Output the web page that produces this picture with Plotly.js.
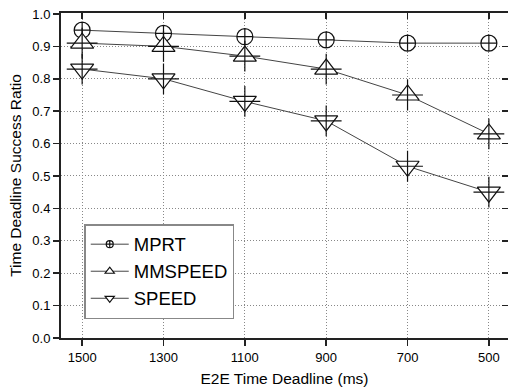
<!DOCTYPE html>
<html>
<head>
<meta charset="utf-8">
<script src="https://cdn.plot.ly/plotly-3.0.1.min.js"></script>
<style>html,body{margin:0;padding:0;background:#fff;}#chart{width:508px;height:389px;}</style>
</head>
<body>
<div id="chart"></div>
<script>
const deadlines = [1500, 1300, 1100, 900, 700, 500];
const tickLabels = ['1500', '1300', '1100', '900', '700', '500'];
const mprt = [0.95, 0.94, 0.93, 0.92, 0.91, 0.91];
const mmspeed = [0.91, 0.90, 0.87, 0.83, 0.75, 0.63];
const speed = [0.83, 0.80, 0.73, 0.67, 0.53, 0.45];
const seriesNames = ['MPRT', 'MMSPEED', 'SPEED'];

const lineStyle = {color: '#444', width: 1};
const mkFill = (symbol, size) => ({symbol: symbol, size: size, color: '#fff', line: {color: '#111', width: 1.2}});
const mkOpen = (symbol, size) => ({symbol: symbol, size: size, color: '#111', line: {color: '#111', width: 1.2}});

const traces = [
  {x: deadlines, y: mprt, mode: 'lines+markers', line: lineStyle, marker: mkFill('circle-cross', 16), showlegend: false},
  {x: deadlines, y: mmspeed, mode: 'lines+markers', line: lineStyle, marker: mkFill('triangle-up', 20), showlegend: false},
  {x: deadlines, y: mmspeed, mode: 'markers', marker: mkOpen('cross-thin-open', 22), showlegend: false},
  {x: deadlines, y: speed, mode: 'lines+markers', line: lineStyle, marker: mkFill('triangle-down', 20), showlegend: false},
  {x: deadlines, y: speed, mode: 'markers', marker: mkOpen('cross-thin-open', 22), showlegend: false},
  {x: [null], y: [null], name: seriesNames[0], mode: 'lines+markers', line: lineStyle, marker: mkFill('circle-cross', 7)},
  {x: [null], y: [null], name: seriesNames[1], mode: 'lines+markers', line: lineStyle, marker: mkFill('triangle-up', 8)},
  {x: [null], y: [null], name: seriesNames[2], mode: 'lines+markers', line: lineStyle, marker: mkFill('triangle-down', 8)},
  {x: [], y: [], xaxis: 'x2', yaxis: 'y2', showlegend: false, hoverinfo: 'skip'}
];

const fam = 'Liberation Sans, Arial, sans-serif';
const gridDash = '1px,2px';

const layout = {
  width: 508, height: 389,
  margin: {l: 61, r: 0, t: 13, b: 51},
  paper_bgcolor: '#fff', plot_bgcolor: '#fff',
  font: {family: fam, color: '#000'},
  showlegend: true,
  xaxis: {
    range: [1552, 453],
    tickvals: deadlines, ticktext: tickLabels,
    ticks: 'outside', ticklen: 6, tickwidth: 1.5, tickcolor: '#222',
    showline: true, linecolor: '#222', linewidth: 2,
    showgrid: true, gridcolor: '#888', griddash: gridDash, gridwidth: 1,
    zeroline: false,
    tickfont: {size: 13, family: fam, color: '#000'},
    title: {text: 'E2E Time Deadline (ms)', font: {size: 15.5, family: fam, color: '#000'}, standoff: 10}
  },
  yaxis: {
    range: [0, 1.003],
    tickvals: [0, 0.1, 0.2, 0.3, 0.4, 0.5, 0.6, 0.7, 0.8, 0.9, 1.0],
    tickformat: '.1f',
    ticks: 'outside', ticklen: 6, tickwidth: 1.5, tickcolor: '#222',
    showline: true, linecolor: '#222', linewidth: 2,
    showgrid: true, gridcolor: '#888', griddash: gridDash, gridwidth: 1,
    zeroline: false,
    tickfont: {size: 13, family: fam, color: '#000'},
    title: {text: 'Time Deadline Success Ratio', font: {size: 15.5, family: fam, color: '#000'}, standoff: 7}
  },
  xaxis2: {
    overlaying: 'x', matches: 'x', side: 'top', anchor: 'y2',
    tickvals: deadlines, showticklabels: false,
    ticks: 'inside', ticklen: 6, tickwidth: 1.5, tickcolor: '#222',
    showline: true, linecolor: '#222', linewidth: 2,
    showgrid: false, zeroline: false
  },
  yaxis2: {
    overlaying: 'y', matches: 'y', side: 'right', anchor: 'x2',
    tickvals: [0, 0.1, 0.2, 0.3, 0.4, 0.5, 0.6, 0.7, 0.8, 0.9, 1.0],
    showticklabels: false,
    ticks: 'inside', ticklen: 6, tickwidth: 1.5, tickcolor: '#222',
    showline: false, showgrid: false, zeroline: false
  },
  legend: {
    x: 0.052, y: 0.058, xanchor: 'left', yanchor: 'bottom',
    bgcolor: '#fff', bordercolor: '#888', borderwidth: 1.5,
    font: {size: 18.5, family: fam, color: '#000'},
    tracegroupgap: 0, itemwidth: 38
  }
};

Plotly.newPlot('chart', traces, layout, {displayModeBar: false, staticPlot: true});
</script>
</body>
</html>
